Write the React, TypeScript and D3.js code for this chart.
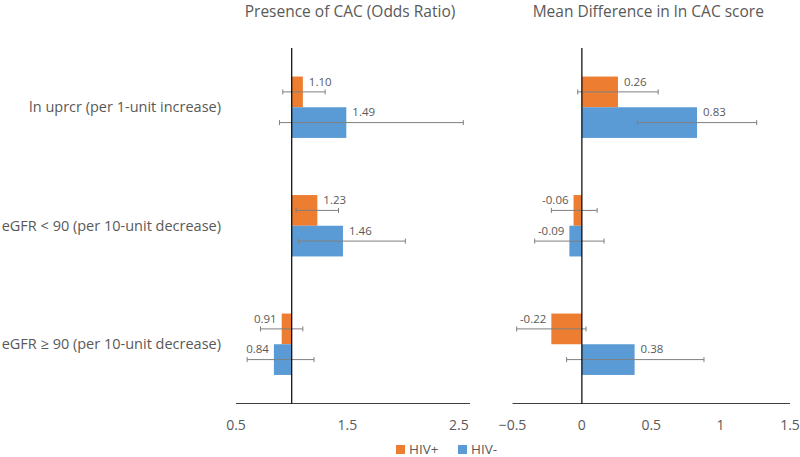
import * as d3 from 'd3';

const categories = [
  'ln uprcr (per 1-unit increase)',
  'eGFR < 90 (per 10-unit decrease)',
  'eGFR ≥ 90 (per 10-unit decrease)',
];
const seriesNames = ['HIV+', 'HIV-'];
const colors = ['#ED7D31', '#5B9BD5'];

// Presence of CAC (odds ratio): point estimate, lower CI, upper CI
const orHivPos = [1.10, 1.23, 0.91];
const orHivPosLo = [0.92, 1.04, 0.72];
const orHivPosHi = [1.30, 1.42, 1.10];
const orHivNeg = [1.49, 1.46, 0.84];
const orHivNegLo = [0.89, 1.06, 0.60];
const orHivNegHi = [2.54, 2.02, 1.20];

// Mean difference in ln CAC score
const mdHivPos = [0.26, -0.06, -0.22];
const mdHivPosLo = [-0.03, -0.22, -0.47];
const mdHivPosHi = [0.55, 0.11, 0.03];
const mdHivNeg = [0.83, -0.09, 0.38];
const mdHivNegLo = [0.40, -0.34, -0.11];
const mdHivNegHi = [1.26, 0.16, 0.88];

const orTicks = [0.5, 1.5, 2.5];
const mdTicks = [-0.5, 0, 0.5, 1, 1.5];

const W = 800;
const H = 457;
const FONT = '"Open Sans", sans-serif';
const TEXT = '#595959';

const y = d3.scaleBand<string>().domain(categories).range([48, 403.5]).paddingInner(0.482).paddingOuter(0.241);
const ySub = d3.scaleBand<string>().domain(seriesNames).range([0, y.bandwidth()]);

type Panel = {
  title: string;
  x: d3.ScaleLinear<number, number>;
  origin: number;
  ticks: number[];
  vals: number[][];
  lo: number[][];
  hi: number[][];
};

const panels: Panel[] = [
  {
    title: 'Presence of CAC (Odds Ratio)',
    x: d3.scaleLinear().domain([0.5, 2.6]).range([236, 470]),
    origin: 1,
    ticks: orTicks,
    vals: [orHivPos, orHivNeg],
    lo: [orHivPosLo, orHivNegLo],
    hi: [orHivPosHi, orHivNegHi],
  },
  {
    title: 'Mean Difference in ln CAC score',
    x: d3.scaleLinear().domain([-0.5, 1.5]).range([512.5, 790]),
    origin: 0,
    ticks: mdTicks,
    vals: [mdHivPos, mdHivNeg],
    lo: [mdHivPosLo, mdHivNegLo],
    hi: [mdHivPosHi, mdHivNegHi],
  },
];

function PanelView({ p }: { p: Panel }) {
  const [x0, x1] = p.x.range();
  const ox = p.x(p.origin);
  const [yTop, yBot] = y.range();
  return (
    <g>
      <text x={(x0 + x1) / 2 - 3} y={16.5} textAnchor="middle" fontSize={15.5} fill={TEXT}>
        {p.title}
      </text>
      {categories.map((c, ci) =>
        seriesNames.map((s, si) => {
          const v = p.vals[si][ci];
          const top = (y(c) ?? 0) + (ySub(s) ?? 0);
          const bh = ySub.bandwidth();
          const cy = top + bh / 2;
          const xv = p.x(v);
          const xl = p.x(p.lo[si][ci]);
          const xh = p.x(p.hi[si][ci]);
          const pos = v >= p.origin;
          return (
            <g key={c + s}>
              <rect x={Math.min(ox, xv)} y={top} width={Math.abs(xv - ox)} height={bh} fill={colors[si]} />
              <g stroke="#7f7f7f" strokeWidth={1}>
                <line x1={xl} x2={xh} y1={cy} y2={cy} />
                <line x1={xl} x2={xl} y1={cy - 2.5} y2={cy + 2.5} />
                <line x1={xh} x2={xh} y1={cy - 2.5} y2={cy + 2.5} />
              </g>
              <text
                x={pos ? xv + 6 : xv - 5}
                y={top + 9}
                textAnchor={pos ? 'start' : 'end'}
                fontSize={11.5}
                fill={TEXT}
              >
                {v.toFixed(2)}
              </text>
            </g>
          );
        })
      )}
      <line x1={x0} x2={x1} y1={yBot} y2={yBot} stroke="#404040" strokeWidth={1} />
      <line x1={ox} x2={ox} y1={yTop} y2={yBot} stroke="#000" strokeWidth={1.2} />
      {p.ticks.map((t) => (
        <text key={t} x={p.x(t)} y={430} textAnchor="middle" fontSize={14} fill={TEXT}>
          {d3.format('')(t)}
        </text>
      ))}
    </g>
  );
}

export default function App() {
  return (
    <svg
      width={W}
      height={H}
      style={{ position: 'absolute', left: 0, top: 0, background: '#fff' }}
      fontFamily={FONT}
    >
      <rect width={W} height={H} fill="#fff" />
      {categories.map((c) => (
        <text
          key={c}
          x={221}
          y={(y(c) ?? 0) + y.bandwidth() / 2 + 5}
          textAnchor="end"
          fontSize={14.5}
          fill={TEXT}
        >
          {c}
        </text>
      ))}
      {panels.map((p) => (
        <PanelView key={p.title} p={p} />
      ))}
      <g>
        {seriesNames.map((s, i) => {
          const lx = i === 0 ? 396 : 458;
          return (
            <g key={s}>
              <rect x={lx} y={445} width={9} height={9} fill={colors[i]} />
              <text x={lx + 13} y={454} fontSize={13.5} fill={TEXT}>
                {s}
              </text>
            </g>
          );
        })}
      </g>
    </svg>
  );
}
